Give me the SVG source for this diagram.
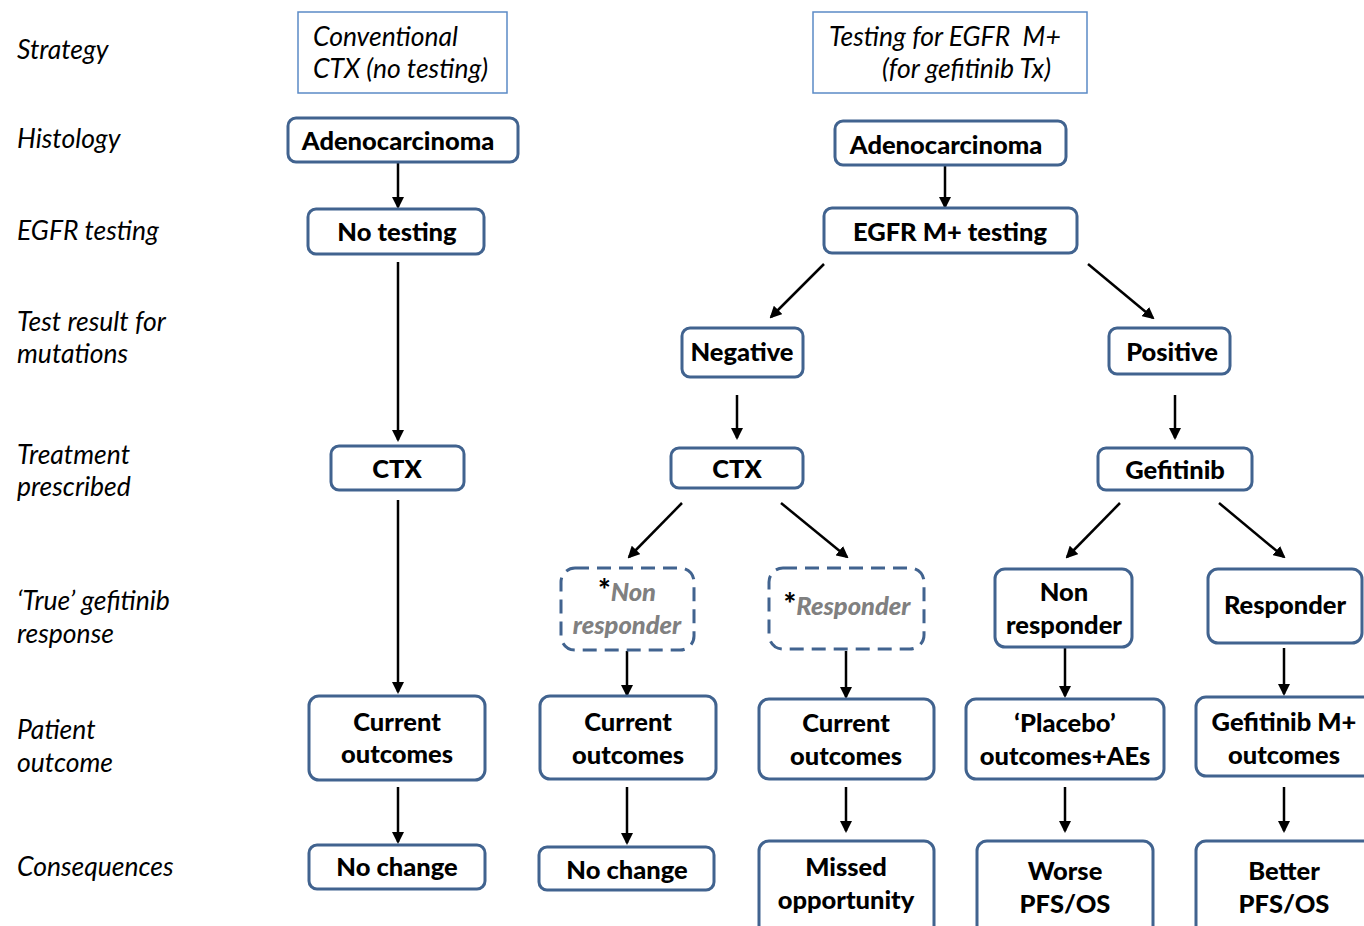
<svg xmlns="http://www.w3.org/2000/svg" width="1364" height="926" viewBox="0 0 1364 926">
<defs>
<marker id="ah" markerWidth="12" markerHeight="12" refX="10" refY="6" orient="auto" markerUnits="userSpaceOnUse" viewBox="0 0 12 12">
<path d="M0,0 L12,6 L0,12 z" fill="#000"/>
</marker>
<style>
.lab{font-family:Lato,"Open Sans",sans-serif;font-style:italic;font-size:26.5px;fill:#000}
.strat{fill:#fff;stroke:#5b8ac6;stroke-width:1.5}
.nd{fill:#fff;stroke:#41638f;stroke-width:3}
.dash{fill:#fff;stroke:#41638f;stroke-width:3;stroke-dasharray:14 8}
.t{font-family:Lato,"Open Sans",sans-serif;font-weight:900;font-size:25.5px;fill:#000;text-anchor:middle}
.g{font-style:italic;fill:#808080}
.ast{font-size:30px}
.c line{stroke:#000;stroke-width:2.5;marker-end:url(#ah)}
</style>
</defs>
<rect width="1364" height="926" fill="#fff"/>
<g id="labels">
<text class="lab" x="17" y="59">Strategy</text>
<text class="lab" x="17" y="148">Histology</text>
<text class="lab" x="17" y="240">EGFR testing</text>
<text class="lab" x="17" y="331">Test result for</text>
<text class="lab" x="17" y="363">mutations</text>
<text class="lab" x="17" y="464">Treatment</text>
<text class="lab" x="17" y="496">prescribed</text>
<text class="lab" x="17" y="610">‘True’ gefitinib</text>
<text class="lab" x="17" y="643">response</text>
<text class="lab" x="17" y="739">Patient</text>
<text class="lab" x="17" y="772">outcome</text>
<text class="lab" x="17" y="876">Consequences</text>
</g>
<g id="strategy-conventional"><rect class="strat" x="298" y="12" width="209" height="81"/>
<text class="lab" x="313" y="46">Conventional</text><text class="lab" x="313" y="78">CTX (no testing)</text></g>
<g id="strategy-testing"><rect class="strat" x="813" y="12" width="274" height="81"/>
<text class="lab" x="829" y="46" xml:space="preserve">Testing for EGFR  M+</text><text class="lab" x="882" y="78">(for gefitinib Tx)</text></g>

<g class="c" id="connectors">
<line x1="398" y1="163" x2="398" y2="207"/>
<line x1="398" y1="262" x2="398" y2="440"/>
<line x1="398" y1="500" x2="398" y2="692"/>
<line x1="398" y1="787" x2="398" y2="842"/>
<line x1="945" y1="166" x2="945" y2="207"/>
<line x1="824" y1="264" x2="771" y2="317"/>
<line x1="1088" y1="264" x2="1153" y2="318"/>
<line x1="737" y1="395" x2="737" y2="438"/>
<line x1="1175" y1="395" x2="1175" y2="438"/>
<line x1="682" y1="503" x2="629" y2="557"/>
<line x1="781" y1="503" x2="847" y2="557"/>
<line x1="1120" y1="503" x2="1067" y2="557"/>
<line x1="1219" y1="503" x2="1284" y2="557"/>
<line x1="627" y1="651" x2="627" y2="695"/>
<line x1="846" y1="651" x2="846" y2="697"/>
<line x1="1065" y1="648" x2="1065" y2="696"/>
<line x1="1284" y1="648" x2="1284" y2="694"/>
<line x1="627" y1="787" x2="627" y2="843"/>
<line x1="846" y1="787" x2="846" y2="831"/>
<line x1="1065" y1="787" x2="1065" y2="831"/>
<line x1="1284" y1="787" x2="1284" y2="831"/>
</g>

<g id="adeno-l"><rect class="nd" x="288" y="118" width="230" height="44" rx="8"/><text class="t" x="398" y="150">Adenocarcinoma</text></g>
<g id="notesting"><rect class="nd" x="308" y="209" width="176" height="45" rx="8"/><text class="t" x="397" y="241">No testing</text></g>
<g id="ctx-l"><rect class="nd" x="331" y="446" width="133" height="44" rx="8"/><text class="t" x="397" y="478">CTX</text></g>
<g id="cur-l"><rect class="nd" x="309" y="696" width="176" height="84" rx="10"/><text class="t" x="397" y="731">Current</text><text class="t" x="397" y="763">outcomes</text></g>
<g id="nochange-l"><rect class="nd" x="309" y="845" width="176" height="44" rx="8"/><text class="t" x="397" y="876">No change</text></g>

<g id="adeno-r"><rect class="nd" x="835" y="121" width="231" height="44" rx="8"/><text class="t" x="946" y="154">Adenocarcinoma</text></g>
<g id="egfr"><rect class="nd" x="824" y="208" width="253" height="45" rx="8"/><text class="t" x="950" y="241">EGFR M+ testing</text></g>
<g id="negative"><rect class="nd" x="682" y="328" width="121" height="49" rx="8"/><text class="t" x="742" y="361">Negative</text></g>
<g id="positive"><rect class="nd" x="1109" y="328" width="121" height="46" rx="8"/><text class="t" x="1172" y="361">Positive</text></g>
<g id="ctx-m"><rect class="nd" x="671" y="448" width="132" height="40" rx="8"/><text class="t" x="737" y="478">CTX</text></g>
<g id="gefitinib"><rect class="nd" x="1098" y="448" width="154" height="42" rx="8"/><text class="t" x="1175" y="479">Gefitinib</text></g>

<g id="nonresp-dash"><rect class="dash" x="561" y="568" width="133" height="82" rx="14"/>
<text class="t" x="627" y="601"><tspan class="ast">*</tspan><tspan class="g">Non</tspan></text><text class="t g" x="627" y="634">responder</text></g>
<g id="resp-dash"><rect class="dash" x="769" y="568" width="155" height="81" rx="14"/>
<text class="t" x="847" y="615"><tspan class="ast">*</tspan><tspan class="g">Responder</tspan></text></g>
<g id="nonresp"><rect class="nd" x="995" y="569" width="137" height="78" rx="10"/><text class="t" x="1064" y="601">Non</text><text class="t" x="1064" y="634">responder</text></g>
<g id="resp"><rect class="nd" x="1208" y="569" width="154" height="74" rx="10"/><text class="t" x="1285" y="614">Responder</text></g>

<g id="cur-m1"><rect class="nd" x="540" y="696" width="176" height="83" rx="10"/><text class="t" x="628" y="731">Current</text><text class="t" x="628" y="764">outcomes</text></g>
<g id="cur-m2"><rect class="nd" x="759" y="699" width="175" height="80" rx="10"/><text class="t" x="846" y="732">Current</text><text class="t" x="846" y="765">outcomes</text></g>
<g id="placebo"><rect class="nd" x="966" y="699" width="198" height="80" rx="10"/><text class="t" x="1065" y="732">‘Placebo’</text><text class="t" x="1065" y="765">outcomes+AEs</text></g>
<g id="gefout"><rect class="nd" x="1196" y="697" width="180" height="79" rx="10"/><text class="t" x="1284" y="731">Gefitinib M+</text><text class="t" x="1284" y="764">outcomes</text></g>

<g id="nochange-m"><rect class="nd" x="539" y="847" width="175" height="43" rx="8"/><text class="t" x="627" y="879">No change</text></g>
<g id="missed"><rect class="nd" x="759" y="841" width="175" height="95" rx="10"/><text class="t" x="846" y="876">Missed</text><text class="t" x="846" y="909">opportunity</text></g>
<g id="worse"><rect class="nd" x="977" y="841" width="176" height="95" rx="10"/><text class="t" x="1065" y="880">Worse</text><text class="t" x="1065" y="913">PFS/OS</text></g>
<g id="better"><rect class="nd" x="1196" y="841" width="180" height="95" rx="10"/><text class="t" x="1284" y="880">Better</text><text class="t" x="1284" y="913">PFS/OS</text></g>
</svg>
